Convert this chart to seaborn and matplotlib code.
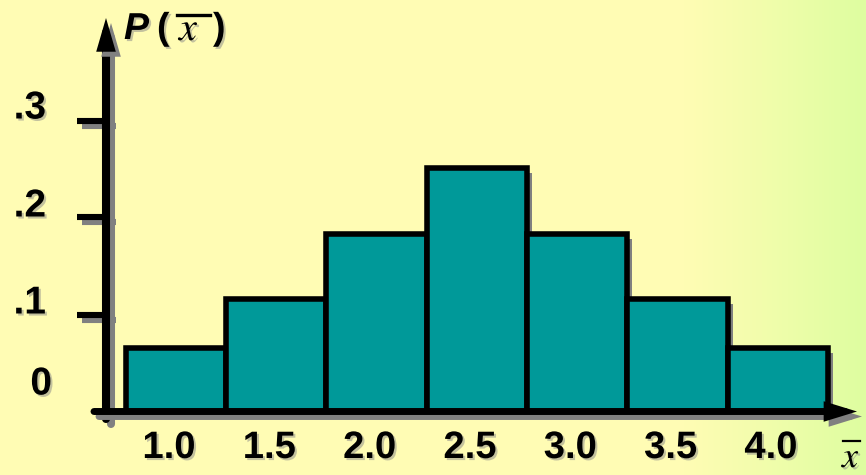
import numpy as np
import matplotlib
matplotlib.use("Agg")
import matplotlib.pyplot as plt
import matplotlib.patheffects as pe
import matplotlib.transforms as mtrans
import pandas as pd
import seaborn as sns

# ---------------- data ----------------
x_labels = ["1.0", "1.5", "2.0", "2.5", "3.0", "3.5", "4.0"]
probabilities = [0.065, 0.116, 0.183, 0.251, 0.183, 0.116, 0.065]
ytick_values = [0.0, 0.1, 0.2, 0.3]
ytick_labels = ["0", ".1", ".2", ".3"]

# ---------------- layout helpers (pixels) ----------------
W, H = 866, 475
X0PX, PX_PER_CAT = 176.0, 100.33     # centre of first bar, spacing
Y0PX, PX_PER_UNIT = 411.5, 970.0     # baseline, pixels per probability unit


def dx(px):
    return (px - X0PX) / PX_PER_CAT


def dy(py):
    return (Y0PX - py) / PX_PER_UNIT


def fx(px):
    return px / W


def fy(py):
    return 1 - py / H


fig = plt.figure(figsize=(W / 100, H / 100), dpi=100)
plt.rcParams['font.family'] = ['Liberation Sans', 'DejaVu Sans']

# ---------------- background gradient ----------------
bg = fig.add_axes([0, 0, 1, 1], zorder=-10)
xs = np.linspace(0, 1, W)
stops = [0.0, 0.79, 0.88, 1.0]
r = np.interp(xs, stops, [255, 255, 242, 222])
g = np.interp(xs, stops, [252, 252, 253, 254])
b = np.interp(xs, stops, [180, 180, 172, 160])
grad = np.stack([r, g, b], axis=-1)[None, :, :] / 255.0
bg.imshow(np.repeat(grad, 4, axis=0), aspect='auto', extent=[0, 1, 0, 1])
bg.set_axis_off()

# ---------------- main axes ----------------
ax = fig.add_axes([0, 0, 1, 1])
ax.patch.set_alpha(0)
df = pd.DataFrame({"xbar": x_labels, "p": probabilities})
sns.barplot(data=df, x="xbar", y="p", order=x_labels, color="#009999",
            saturation=1, width=1.0, edgecolor="black", linewidth=4.0,
            ax=ax, zorder=2)
for p in ax.patches:
    p.set_path_effects([pe.SimplePatchShadow(offset=(3.6, -3.6),
                                             shadow_rgbFace="#808080", alpha=1),
                        pe.Normal()])
    p.set_joinstyle("miter")

ax.set_xlim(dx(0), dx(W))
ax.set_ylim(dy(H), dy(0))
ax.set_axis_off()

shadow = [pe.SimpleLineShadow(offset=(3.6, -3.6), shadow_color="#808080", alpha=1),
          pe.SimplePatchShadow(offset=(3.6, -3.6), shadow_rgbFace="#808080", alpha=1),
          pe.Normal()]

# y axis arrow
ax.annotate("", xy=(dx(106), dy(18)), xytext=(dx(106), dy(419)),
            arrowprops=dict(arrowstyle="-|>,head_length=0.55,head_width=0.16",
                            lw=5.8, color="black", shrinkA=0, shrinkB=0,
                            mutation_scale=20, joinstyle="miter",
                            path_effects=shadow),
            zorder=5)
# x axis arrow
ax.annotate("", xy=(dx(857), 0), xytext=(dx(94), 0),
            arrowprops=dict(arrowstyle="-|>,head_length=0.65,head_width=0.2",
                            lw=5.0, color="black", shrinkA=0, shrinkB=0,
                            mutation_scale=20, joinstyle="miter",
                            path_effects=shadow),
            zorder=5)

# y ticks
ax.hlines(ytick_values[1:], dx(77), dx(111), colors="black", lw=4.4,
          path_effects=[pe.SimpleLineShadow(offset=(3.6, -3.6),
                                            shadow_color="#808080", alpha=1),
                        pe.Normal()],
          zorder=4)

text_shadow = [pe.withSimplePatchShadow(offset=(1.5, -1.5),
                                        shadow_rgbFace="#888888", alpha=0.5)]

# y tick labels (baseline raised a little above each tick)
ylabel_raise_px = [17, 1, 1, 2]
ylabel_right_px = [52, 46, 46, 46]
for v, lab, raise_px, right_px in zip(ytick_values, ytick_labels,
                                      ylabel_raise_px, ylabel_right_px):
    off = mtrans.offset_copy(ax.transData, fig=fig, x=0, y=raise_px * 0.72,
                             units="points")
    ax.text(dx(right_px), v, lab, transform=off, ha="right", va="baseline",
            fontsize=28, fontweight="bold", color="black",
            path_effects=text_shadow)

# x tick labels
xoff = mtrans.offset_copy(ax.transData, fig=fig, x=-7 * 0.72, y=0,
                          units="points")
for i, lab in enumerate(x_labels):
    ax.text(i, dy(458), lab, transform=xoff, ha="center", va="baseline",
            fontsize=27.5, fontweight="bold", color="black",
            path_effects=text_shadow)

# y axis title  P( x̄ )
fig.text(fx(124), fy(39), "P", ha="left", va="baseline", fontsize=27,
         fontweight="bold", fontstyle="italic", path_effects=text_shadow)
fig.text(fx(157), fy(39), "(", ha="left", va="baseline", fontsize=27,
         fontweight="bold", path_effects=text_shadow)
fig.text(fx(179), fy(40), "x", ha="left", va="baseline", fontsize=29,
         family="STIXGeneral", fontstyle="italic", path_effects=text_shadow)
fig.add_artist(plt.Line2D([fx(177), fx(210)], [fy(14.5), fy(14.5)],
                          color="black", lw=2.4, transform=fig.transFigure))
fig.text(fx(213), fy(39), ")", ha="left", va="baseline", fontsize=27,
         fontweight="bold", path_effects=text_shadow)

# x axis title  x̄
fig.text(fx(842), fy(467), "x", ha="left", va="baseline", fontsize=26,
         family="STIXGeneral", fontstyle="italic", path_effects=text_shadow)
fig.add_artist(plt.Line2D([fx(843), fx(860)], [fy(441), fy(441)],
                          color="black", lw=1.6, transform=fig.transFigure))

fig.savefig("out.png", dpi=100)
